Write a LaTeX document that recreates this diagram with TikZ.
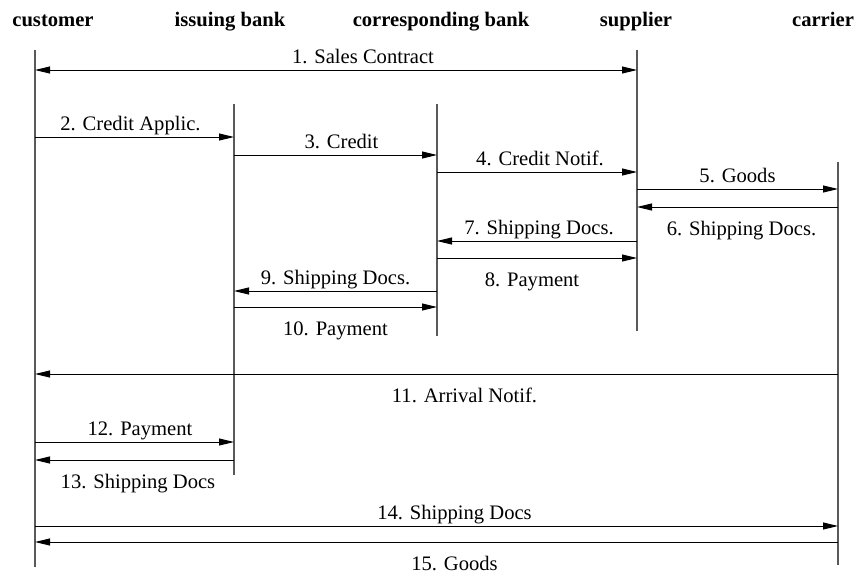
\documentclass[tikz,border=0pt]{standalone}
\usepackage{fontspec}
\setmainfont{Liberation Serif}
\usetikzlibrary{arrows.meta}

\begin{document}
\begin{tikzpicture}[x=0.5pt, y=-0.5pt, font=\fontsize{10.3}{12}\selectfont,
    head/.style={font=\fontsize{10.3}{12}\selectfont\bfseries, anchor=base, inner sep=0pt},
    life/.style={draw=black!65, line width=0.55pt},
    msg/.style={line width=0.5pt, -{Triangle[length=7.5pt,width=3.5pt]}},
    both/.style={line width=0.5pt, {Triangle[length=7.5pt,width=3.5pt]}-{Triangle[length=7.5pt,width=3.5pt]}},
    lab/.style={inner sep=0pt, text height=7pt, text depth=2pt},
    up/.style={lab, above=1pt},
    down/.style={lab, below=7pt}]
  \useasboundingbox (0,0) rectangle (857,574);
  % Parties
  \node[head] (hcu) at (53,26) {customer};
  \node[head] (hib) at (230,26) {issuing bank};
  \node[head] (hcb) at (441,26) {corresponding bank};
  \node[head] (hsu) at (636,26) {supplier};
  \node[head] (hca) at (823,26) {carrier};
  % Lifelines
  \coordinate (cu) at (35,50);  \coordinate (cuE) at (35,567);
  \coordinate (ib) at (234,104); \coordinate (ibE) at (234,475);
  \coordinate (cb) at (437,104); \coordinate (cbE) at (437,336);
  \coordinate (su) at (637,50);  \coordinate (suE) at (637,331);
  \coordinate (ca) at (838,162); \coordinate (caE) at (838,565);
  \draw[life] (cu) -- (cuE);
  \draw[life] (ib) -- (ibE);
  \draw[life] (cb) -- (cbE);
  \draw[life] (su) -- (suE);
  \draw[life] (ca) -- (caE);
  % Messages
  \draw[both] (cu |- 0,70) -- node[up, xshift=13.5pt] {1. Sales Contract} (su |- 0,70);
  \draw[msg] (cu |- 0,137) -- node[up, xshift=-2pt] {2. Credit Applic.} (ib |- 0,137);
  \draw[msg] (ib |- 0,155) -- node[up, xshift=3pt] {3. Credit} (cb |- 0,155);
  \draw[msg] (cb |- 0,172) -- node[up, xshift=1.5pt] {4. Credit Notif.} (su |- 0,172);
  \draw[msg] (su |- 0,189) -- node[up] {5. Goods} (ca |- 0,189);
  \draw[msg] (ca |- 0,207) -- node[down, xshift=2pt] {6. Shipping Docs.} (su |- 0,207);
  \draw[msg] (su |- 0,241) -- node[up, xshift=1pt] {7. Shipping Docs.} (cb |- 0,241);
  \draw[msg] (cb |- 0,258) -- node[down, xshift=-2.5pt] {8. Payment} (su |- 0,258);
  \draw[msg] (cb |- 0,291) -- node[up] {9. Shipping Docs.} (ib |- 0,291);
  \draw[msg] (ib |- 0,307) -- node[down] {10. Payment} (cb |- 0,307);
  \draw[msg] (ca |- 0,374) -- node[down, xshift=14pt] {11. Arrival Notif.} (cu |- 0,374);
  \draw[msg] (cu |- 0,442) -- node[up, xshift=2.75pt] {12. Payment} (ib |- 0,442);
  \draw[msg] (ib |- 0,460) -- node[down, xshift=1.75pt] {13. Shipping Docs} (cu |- 0,460);
  \draw[msg] (cu |- 0,526) -- node[up, xshift=9pt] {14. Shipping Docs} (ca |- 0,526);
  \draw[msg] (ca |- 0,542) -- node[down, xshift=9pt] {15. Goods} (cu |- 0,542);
\end{tikzpicture}
\end{document}
